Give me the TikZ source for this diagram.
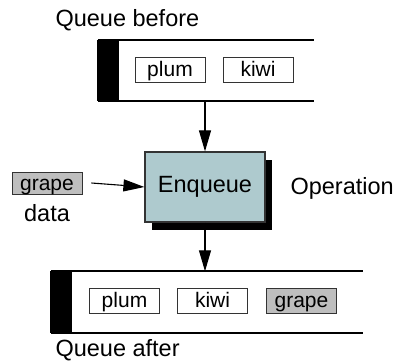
\documentclass[tikz,border=0pt]{standalone}
\usepackage{fontspec}
\setmainfont{Liberation Sans}
\usetikzlibrary{arrows.meta,positioning,shadows}
\definecolor{opfill}{RGB}{174,202,206}
\definecolor{datafill}{RGB}{190,190,190}

\begin{document}
\begin{tikzpicture}[x=1pt,y=-1pt,>={Triangle[length=21pt,width=12pt]},font=\fontsize{23.5}{26}\selectfont]
\tikzstyle{item}=[draw=black!80,line width=0.9pt,minimum width=70pt,minimum height=25pt,inner sep=0pt,text height=15pt,text depth=0pt,font=\fontsize{21}{24}\selectfont]
\tikzstyle{queue}=[inner sep=0pt,minimum height=61pt]
\tikzstyle{qline}=[line width=2pt]
\tikzstyle{arr}=[->,line width=1.1pt]
\useasboundingbox (0,0) rectangle (394,363);
% queue before
\node[queue,minimum width=216pt] (qb) at (206,70.5) {};
\fill ([xshift=-1pt]qb.north west) rectangle ([xshift=21pt]qb.south west);
\draw[qline] (qb.north west) -- (qb.north east) (qb.south west) -- (qb.south east);
\foreach \x/\n in {170/plum,258/kiwi} \node[item] (b-\n) at (\x,69.5) {\n};
\node[anchor=base west] (lb) at (52,27) {Queue before};
% operation
\node[draw=black!80,line width=1.2pt,fill=opfill,minimum width=120pt,minimum height=70pt,
  drop shadow={shadow xshift=7pt,shadow yshift=-8pt,opacity=1,fill=black}] (enq) at (205,187) {Enqueue};
\node[anchor=base west] (op) at (287,195) {Operation};
\node[item,fill=datafill,minimum height=22pt] (grape) at (47,183) {grape};
\node[anchor=base] (data) at (47,222) {data};
% queue after
\node[queue,minimum width=312pt] (qa) at (207,302) {};
\fill ([xshift=-1pt]qa.north west) rectangle ([xshift=21pt]qa.south west);
\draw[qline] (qa.north west) -- (qa.north east) (qa.south west) -- (qa.south east);
\foreach \x/\n/\c in {124.5/plum/white,212.5/kiwi/white,301.5/grape/datafill} \node[item,fill=\c] (a-\n) at (\x,300.5) {\n};
\node[anchor=base west] (la) at (52,357) {Queue after};
% arrows
\draw[arr] (qb.south -| enq.north) -- (enq.north);
\draw[arr] ([xshift=9pt]grape.east) -- (enq.west);
\draw[arr] (enq.south) -- (qa.north -| enq.south);
\end{tikzpicture}
\end{document}
